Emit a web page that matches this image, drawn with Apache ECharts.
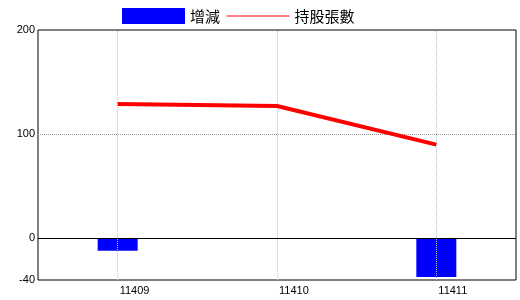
<!DOCTYPE html>
<html>
<head>
<meta charset="utf-8">
<script src="https://cdn.jsdelivr.net/npm/echarts@6/dist/echarts.min.js"></script>
<style>html,body{margin:0;padding:0;background:#fff;}#c{width:520px;height:300px;}</style>
</head>
<body>
<div id="c"></div>
<script>
var categories = ['11409', '11410', '11411'];
var changeValues = [-12, 0, -37];
var holdingValues = [129, 127, 90];
var yTickLabels = [-40, 0, 100, 200];

var chart = echarts.init(document.getElementById('c'), null, {renderer: 'canvas'});
chart.setOption({
  animation: false,
  backgroundColor: '#fff',
  legend: {
    left: 122, top: 8, padding: 0,
    itemWidth: 63, itemHeight: 16, itemGap: 6,
    textStyle: {fontFamily: 'Noto Sans CJK TC', fontSize: 15, color: '#000'},
    data: [
      {name: '增減', icon: 'rect'},
      {name: '持股張數', lineStyle: {width: 1}, itemStyle: {opacity: 0}}
    ]
  },
  grid: {left: 38, right: 4, top: 30, bottom: 20, show: true, borderColor: '#000', borderWidth: 1, outerBoundsMode: 'none'},
  xAxis: {
    type: 'category', data: categories, boundaryGap: true,
    axisLine: {show: false, onZero: false}, axisTick: {show: false}, splitLine: {show: false},
    axisLabel: {align: 'left', margin: 5, padding: [0, 0, 0, 2], color: '#000', fontFamily: 'Liberation Sans', fontSize: 11}
  },
  yAxis: {
    type: 'value', min: -40, max: 200, interval: 20,
    axisLine: {show: false}, axisTick: {show: false}, splitLine: {show: false},
    axisLabel: {
      margin: 3, color: '#000', fontFamily: 'Liberation Sans', fontSize: 11,
      formatter: function (v) { return yTickLabels.indexOf(v) >= 0 ? String(v) : ''; }
    }
  },
  series: [
    {
      name: '增減', type: 'bar', data: changeValues, barWidth: 40,
      itemStyle: {color: '#0000ff'}, z: 2,
      markLine: {
        silent: true, symbol: 'none', label: {show: false}, animation: false,
        data: [
          {yAxis: 100, lineStyle: {color: '#999', type: [1, 1], width: 1}},
          {yAxis: 0, lineStyle: {color: '#000', type: 'solid', width: 1}},
          {xAxis: categories[0], lineStyle: {color: '#a8c4d8', type: [1, 1], width: 1}},
          {xAxis: categories[1], lineStyle: {color: '#a8c4d8', type: [1, 1], width: 1}},
          {xAxis: categories[2], lineStyle: {color: '#a8c4d8', type: [1, 1], width: 1}}
        ]
      }
    },
    {
      name: '持股張數', type: 'line', data: holdingValues, symbol: 'none',
      lineStyle: {color: '#ff0000', width: 4}, itemStyle: {color: '#ff0000'}, z: 5
    }
  ]
});
</script>
</body>
</html>
